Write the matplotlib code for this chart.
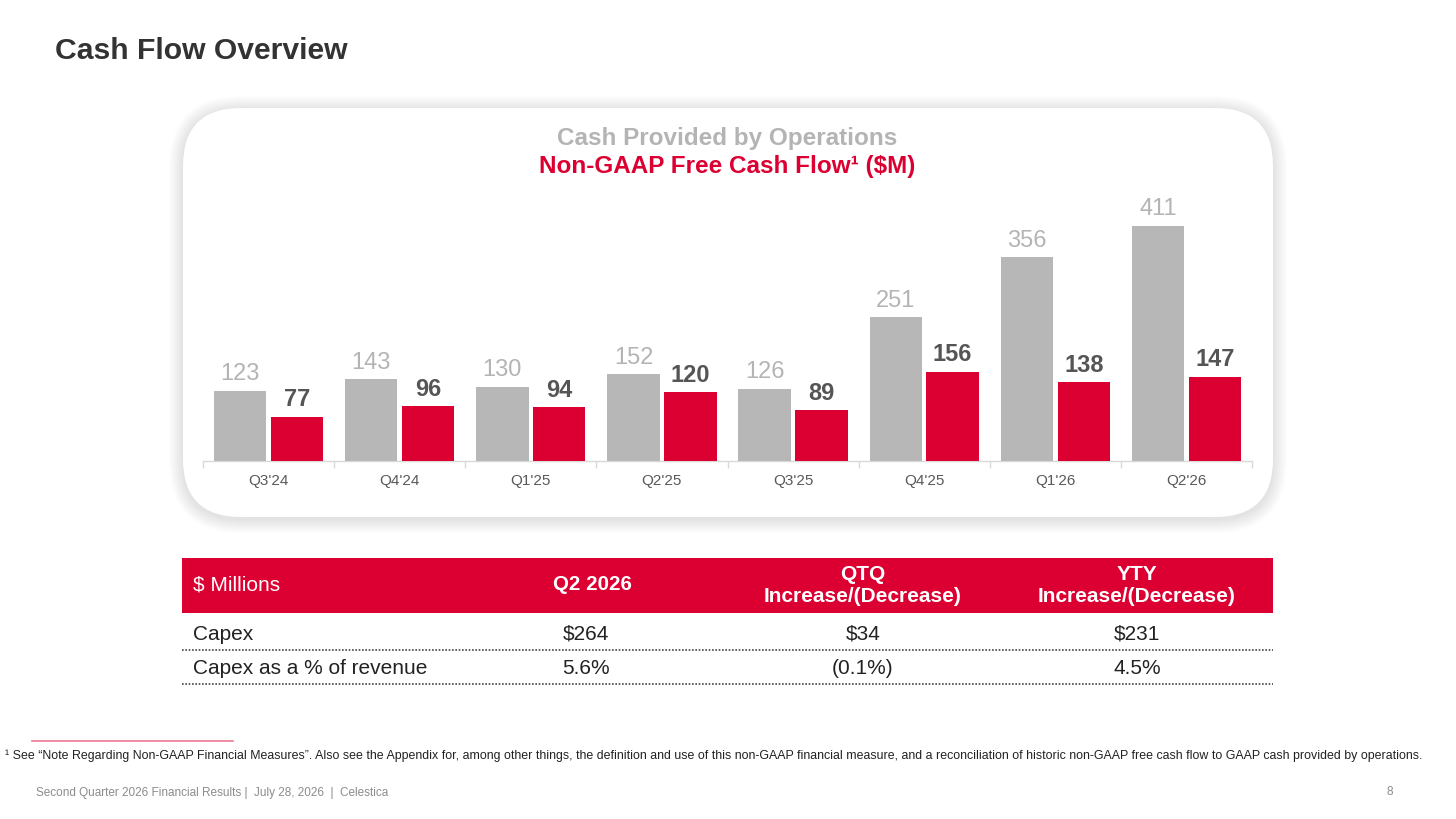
import matplotlib
matplotlib.use("Agg")
import matplotlib.pyplot as plt
from matplotlib.patches import FancyBboxPatch, Rectangle
import numpy as np

plt.rcParams['font.family'] = ['Liberation Sans', 'DejaVu Sans']

# ---------------- data ----------------
quarters = ["Q3'24", "Q4'24", "Q1'25", "Q2'25", "Q3'25", "Q4'25", "Q1'26", "Q2'26"]
cash_from_ops = [123, 143, 130, 152, 126, 251, 356, 411]
free_cash_flow = [77, 96, 94, 120, 89, 156, 138, 147]

table_header = ["$ Millions", "Q2 2026", "QTQ\nIncrease/(Decrease)", "YTY\nIncrease/(Decrease)"]
table_rows = [
    ["Capex", "$264", "$34", "$231"],
    ["Capex as a % of revenue", "5.6%", "(0.1%)", "4.5%"],
]

GRAY = "#B7B7B7"
RED = "#DC0032"
LABEL_GRAY = "#B4B4B4"
LABEL_DARK = "#555555"

W, H = 1456, 819
fig = plt.figure(figsize=(W / 100, H / 100), dpi=100)
fig.patch.set_facecolor("white")

# background axes in pixel coordinates
bg = fig.add_axes([0, 0, 1, 1])
bg.set_xlim(0, W)
bg.set_ylim(H, 0)
bg.axis("off")

# title
bg.text(55, 51, "Cash Flow Overview", fontsize=21.7, fontweight="bold",
        color="#333333", ha="left", va="center")

# rounded card with soft shadow
bx, by, bw, bh, r = 183, 108, 1090, 409, 58
n_layers = 14
for i in range(n_layers):
    pad = 14 - i
    sh = FancyBboxPatch((bx - pad + r, by - pad + 2 + r), bw + 2 * pad - 2 * r, bh + 2 * pad - 2 * r,
                        boxstyle=f"round,pad={r},rounding_size={r + pad}",
                        facecolor="black", edgecolor="none", alpha=0.009, zorder=1)
    bg.add_patch(sh)
card = FancyBboxPatch((bx + r, by + r), bw - 2 * r, bh - 2 * r,
                      boxstyle=f"round,pad={r},rounding_size={r}",
                      facecolor="white", edgecolor="none", zorder=2)
bg.add_patch(card)

# chart titles
bg.text(727, 138, "Cash Provided by Operations", fontsize=17.5, fontweight="bold",
        color="#B4B4B4", ha="center", va="center", zorder=3)
bg.text(727, 166, "Non-GAAP Free Cash Flow\u00b9 ($M)", fontsize=17.5, fontweight="bold",
        color=RED, ha="center", va="center", zorder=3)

# ---------------- bar chart ----------------
left_px, right_px, base_px, top_px = 203, 1252, 461, 190
ax = fig.add_axes([left_px / W, 1 - base_px / H, (right_px - left_px) / W, (base_px - top_px) / H])
ax.patch.set_visible(False)
x = np.arange(len(quarters))
bw_ = 0.40
off = 0.217
b1 = ax.bar(x - off, cash_from_ops, width=bw_, color=GRAY, zorder=3)
b2 = ax.bar(x + off, free_cash_flow, width=bw_, color=RED, zorder=3)
ax.set_xlim(-0.5, len(quarters) - 0.5)
ax.set_ylim(0, (base_px - top_px) / (235 / 411))

for rect, v in zip(b1, cash_from_ops):
    ax.annotate(str(v), (rect.get_x() + rect.get_width() / 2, rect.get_height()),
                xytext=(0, 4), textcoords="offset points", ha="center", va="bottom",
                fontsize=17, color=LABEL_GRAY)
for rect, v in zip(b2, free_cash_flow):
    ax.annotate(str(v), (rect.get_x() + rect.get_width() / 2, rect.get_height()),
                xytext=(0, 4), textcoords="offset points", ha="center", va="bottom",
                fontsize=17, color=LABEL_DARK, fontweight="bold")

for s in ["top", "right", "left"]:
    ax.spines[s].set_visible(False)
ax.spines["bottom"].set_color("#D9D9D9")
ax.spines["bottom"].set_linewidth(1)
ax.set_yticks([])
ax.set_xticks(x)
ax.set_xticklabels(quarters, fontsize=11, color="#595959")
ax.tick_params(axis="x", which="major", length=0, pad=9)
ax.set_xticks(np.arange(-0.5, len(quarters), 1), minor=True)
ax.tick_params(axis="x", which="minor", length=5, color="#D9D9D9", width=1)

# ---------------- table ----------------
tx0, tx1 = 182, 1273
bg.add_patch(Rectangle((tx0, 558), tx1 - tx0, 55, facecolor=RED, edgecolor="none", zorder=2))
col_x = [193, 592, 863, 1137]
bg.text(col_x[0], 585, table_header[0], fontsize=15, color="white", ha="left", va="center", zorder=3)
bg.text(col_x[1], 585, table_header[1], fontsize=14.8, color="white", fontweight="bold",
        ha="center", va="center", zorder=3)
for j in (2, 3):
    bg.text(col_x[j], 586, table_header[j], fontsize=15, color="white", fontweight="bold",
            ha="center", va="center", linespacing=1.2, zorder=3)

row_y = [634, 668]
line_y = [650, 684]
val_x = [193, 586, 863, 1137]
for row, ry, ly in zip(table_rows, row_y, line_y):
    bg.text(val_x[0], ry, row[0], fontsize=15, color="#222222", ha="left", va="center")
    for j in (1, 2, 3):
        bg.text(val_x[j], ry, row[j], fontsize=15, color="#222222", ha="center", va="center")
    bg.plot([tx0, tx1], [ly, ly], color="#444444", linestyle=(0, (1, 1)), linewidth=1.2)

# ---------------- footnote / footer ----------------
bg.plot([32, 233], [741, 741], color="#EE7A95", linewidth=1.2)
bg.text(5, 756, "\u00b9 See \u201cNote Regarding Non-GAAP Financial Measures\u201d. Also see the Appendix for, among other things, "
        "the definition and use of this non-GAAP financial measure, and a reconciliation of historic non-GAAP free cash flow "
        "to GAAP cash provided by operations.",
        fontsize=8.9, color="#222222", ha="left", va="center")
bg.text(36, 793, "Second Quarter 2026 Financial Results |  July 28, 2026  |  Celestica",
        fontsize=8.5, color="#8C8C8C", ha="left", va="center")
bg.text(1390, 792, "8", fontsize=8.5, color="#8C8C8C", ha="center", va="center")

fig.savefig("out.png", dpi=100, facecolor="white")
